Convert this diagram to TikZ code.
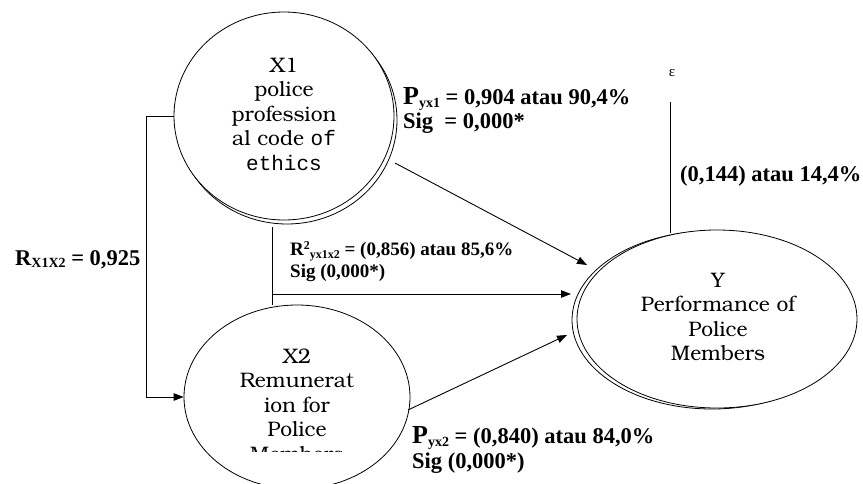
\documentclass[tikz,border=0pt]{standalone}
\usepackage{fontspec}
\setmainfont{Liberation Serif}
\newfontfamily\bonum{texgyrebonum-regular.otf}
\newfontfamily\cour{Liberation Mono}
\usetikzlibrary{shapes.geometric,arrows.meta,calc}
\tikzset{
  varshape/.style={ellipse, draw, line width=0.8pt, fill=white, inner sep=0pt},
  shapetext/.style={font=\bonum\fontsize{21}{24.5}\selectfont, align=center, inner sep=0pt},
  lbl/.style={font=\bfseries\fontsize{22.5}{24}\selectfont, inner sep=0pt, anchor=base west},
  smalllbl/.style={font=\bfseries\fontsize{19}{20}\selectfont, inner sep=0pt, anchor=base west},
  conn/.style={line width=0.9pt},
  arr/.style={conn, -{Triangle[length=10pt,width=7.5pt]}},
}
\newcommand{\bigP}{{\fontsize{26}{26}\selectfont P}}
\newcommand{\lowsub}[1]{\raisebox{-3pt}{\fontsize{14}{14}\selectfont #1}}
\begin{document}
\begin{tikzpicture}[x=1pt,y=-1pt]
\useasboundingbox (0,0) rectangle (863,483);

% X1 with shadow
\node[varshape, minimum width=220pt, minimum height=208pt] (X1s) at (287,120) {};
\node[varshape, minimum width=220pt, minimum height=208pt] (X1) at (284,116) {};
\node[shapetext] (X1t) at (284,114) {X1\\police\\profession\\al code {\cour of}\\{\cour ethics}};

% X2
\node[varshape, minimum width=226pt, minimum height=184pt] (X2) at (297,397) {};
\begin{scope}
  \clip (150,300) rectangle (450,451);
  \node[shapetext] (X2t) at (297,405) {X2\\Remunerat\\ion for\\Police\\Members};
\end{scope}

% Y with shadow
\node[varshape, minimum width=280pt, minimum height=178pt] (Ys) at (712,320) {};
\node[varshape, minimum width=280pt, minimum height=178pt] (Y) at (717,319) {};
\node[shapetext] (Yt) at (718,317) {Y\\Performance of\\Police\\Members};

% correlation bracket
\draw[arr] (X1.west) -- ++(-27,0) |- (X2.west);

% joint path
\coordinate (m1) at (272,227);
\coordinate (m2) at (272,294);
\coordinate (t0) at (571,294);
\draw[conn] (m1) -- (m1 |- X2.north);
\draw[arr] (m2) -- (t0);

% X1 -> Y
\coordinate (s1) at (395,163);
\coordinate (t1) at (587,265);
\draw[arr] (s1) -- (t1);

% X2 -> Y
\coordinate (s2) at (408,410);
\coordinate (t2) at (567,335);
\draw[arr] (s2) -- (t2);

% epsilon
\node[inner sep=0pt, font=\fontsize{15}{15}\selectfont] (eps) at (672,73) {ε};
\coordinate (e1) at (670,102);
\coordinate (e2) at (670,233);
\draw[conn] (e1) -- (e2);

% labels
\node[lbl] (p1a) at (403,104) {\bigP\lowsub{yx1} = 0,904 atau 90,4\%};
\node[lbl] (p1b) at (403,128) {Sig\ \ = 0,000*};
\node[lbl] (e14) at (680,181) {(0,144) atau 14,4\%};
\node[smalllbl] (r2a) at (290,255) {R\raisebox{6pt}{\fontsize{12}{12}\selectfont 2}\lowsub{\fontsize{12}{12}\selectfont yx1x2} = (0,856) atau 85,6\%};
\node[smalllbl] (r2b) at (290,277) {Sig (0,000*)};
\node[lbl] (rx) at (15,265) {R\raisebox{-2pt}{\fontsize{14}{14}\selectfont X1X2} = 0,925};
\node[lbl] (p2a) at (412,443) {\bigP\lowsub{yx2} = (0,840) atau 84,0\%};
\node[lbl] (p2b) at (412,468) {Sig (0,000*)};
\end{tikzpicture}
\end{document}
